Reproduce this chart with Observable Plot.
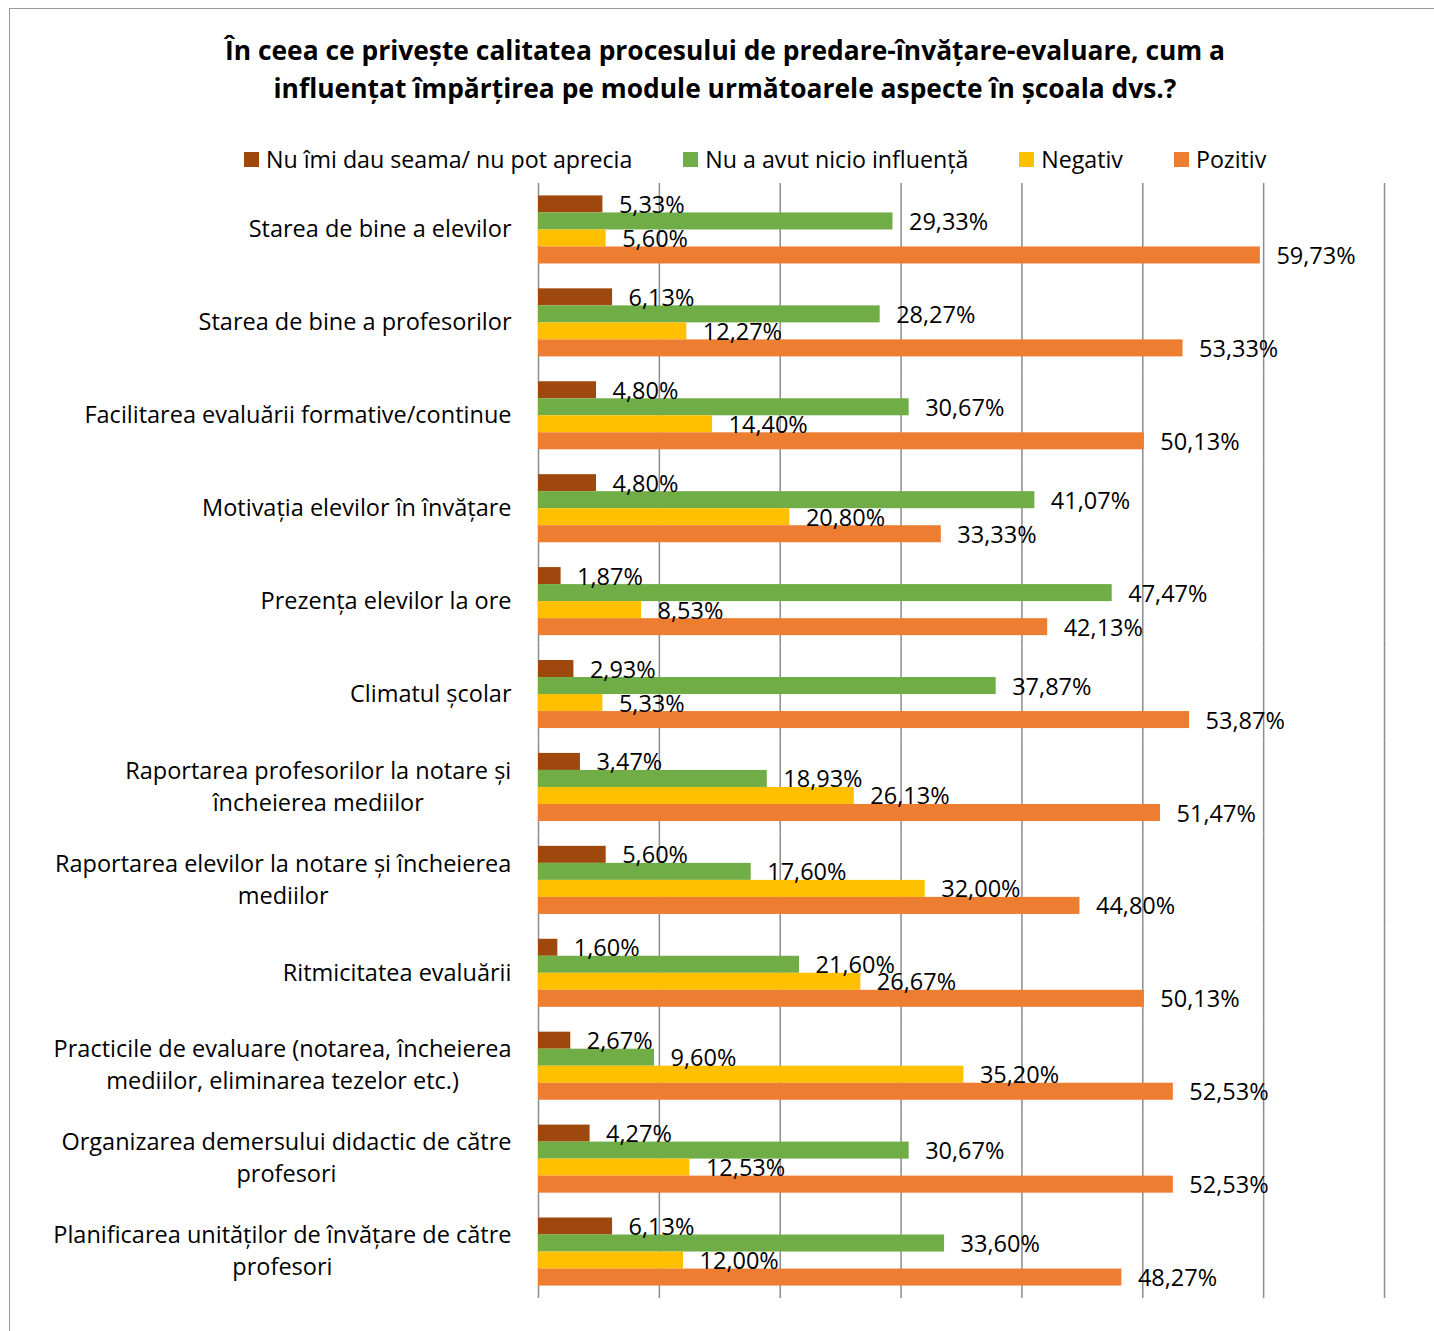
<!DOCTYPE html>
<html>
<head>
<meta charset="utf-8">
<script src="https://cdn.jsdelivr.net/npm/d3@7"></script>
<script src="https://cdn.jsdelivr.net/npm/@observablehq/plot@0.6"></script>
<style>
  html, body { margin: 0; padding: 0; background: #fff; }
  body { width: 1434px; height: 1331px; position: relative; overflow: hidden; font-family: "Open Sans", sans-serif; color: #000; }
  #frame { position: absolute; left: 9px; top: 8px; width: 1460px; height: 1360px; border: 1.5px solid #9a9a9a; box-sizing: border-box; }
  #title { position: absolute; left: 0; top: 31px; width: 1450px; text-align: center; font-weight: bold; font-size: 26.4px; line-height: 38px; }
  #legend { position: absolute; left: 244px; top: 144px; display: flex; align-items: center; font-size: 23.2px; line-height: 30px; }
  .item { display: flex; align-items: center; margin-right: 51px; }
  .sw { width: 15px; height: 15px; margin-right: 7px; }
  #chart { position: absolute; left: 0; top: 175px; }
  #chart svg { display: block; }
</style>
</head>
<body>
<div id="frame"></div>
<div id="title"></div>
<div id="legend"></div>
<div id="chart"></div>
<script>
const titleLines = [
  "În ceea ce privește calitatea procesului de predare-învățare-evaluare, cum a",
  "influențat împărțirea pe module următoarele aspecte în școala dvs.?"
];
const categories = [
  "Starea de bine a elevilor",
  "Starea de bine a profesorilor",
  "Facilitarea evaluării formative/continue",
  "Motivația elevilor în învățare",
  "Prezența elevilor la ore",
  "Climatul școlar",
  "Raportarea profesorilor la notare și\nîncheierea mediilor",
  "Raportarea elevilor la notare și încheierea\nmediilor",
  "Ritmicitatea evaluării",
  "Practicile de evaluare (notarea, încheierea\nmediilor, eliminarea tezelor etc.)",
  "Organizarea demersului didactic de către\nprofesori",
  "Planificarea unităților de învățare de către\nprofesori"
];
const seriesNames = ["Nu îmi dau seama/ nu pot aprecia", "Nu a avut nicio influență", "Negativ", "Pozitiv"];
const seriesColors = ["#9E480E", "#70AD47", "#FFC000", "#ED7D31"];
const nuStiu     = [5.33, 6.13, 4.80, 4.80, 1.87, 2.93, 3.47, 5.60, 1.60, 2.67, 4.27, 6.13];
const niciuna    = [29.33, 28.27, 30.67, 41.07, 47.47, 37.87, 18.93, 17.60, 21.60, 9.60, 30.67, 33.60];
const negativ    = [5.60, 12.27, 14.40, 20.80, 8.53, 5.33, 26.13, 32.00, 26.67, 35.20, 12.53, 12.00];
const pozitiv    = [59.73, 53.33, 50.13, 33.33, 42.13, 53.87, 51.47, 44.80, 50.13, 52.53, 52.53, 48.27];
const gridTicks = [0, 10, 20, 30, 40, 50, 60, 70];

const seriesValues = [nuStiu, niciuna, negativ, pozitiv];
const data = [];
categories.forEach((c, i) => {
  seriesNames.forEach((s, j) => data.push({cat: c, series: s, value: seriesValues[j][i]}));
});
const fmt = v => v.toFixed(2).replace(".", ",") + "%";

document.getElementById("title").innerHTML = titleLines.join("<br>");
const legend = document.getElementById("legend");
seriesNames.forEach((s, j) => {
  const it = document.createElement("div");
  it.className = "item";
  it.innerHTML = `<div class="sw" style="background:${seriesColors[j]}"></div><span>${s}</span>`;
  legend.appendChild(it);
});

const chart = Plot.plot({
  width: 1434,
  height: 1156,
  marginTop: 8,
  marginBottom: 33,
  marginLeft: 538,
  marginRight: 50,
  style: {fontFamily: "Open Sans, sans-serif", fontSize: "23.5px", color: "#000", background: "transparent"},
  x: {domain: [0, 70], axis: null},
  y: {domain: seriesNames, paddingInner: 0, paddingOuter: 0.73, round: false, axis: null},
  fy: {domain: categories, padding: 0, round: false, axis: null},
  color: {domain: seriesNames, range: seriesColors},
  marks: [
    Plot.ruleX(gridTicks, {stroke: "#8c8c8c", strokeWidth: 1.5}),
    Plot.barX(data, {fy: "cat", y: "series", x: "value", fill: "series", insetTop: 0, insetBottom: 0}),
    Plot.text(data, {fy: "cat", y: "series", x: "value", text: d => fmt(d.value), dx: 16, dy: 1, textAnchor: "start", fontSize: 23.5, fill: "#000"}),
    Plot.text(categories, {fy: d => d, text: d => d, frameAnchor: "left", dx: -27, dy: -3, textAnchor: "end", fontSize: 23.5, lineHeight: 1.36, fill: "#000", className: "catlabel"})
  ]
});
document.getElementById("chart").appendChild(chart);

// Center multi-line category labels as a block whose right edge stays at the axis padding
chart.querySelectorAll("g.catlabel text").forEach(t => {
  if (t.querySelectorAll("tspan").length < 2) return;
  const w = t.getBBox().width;
  t.setAttribute("text-anchor", "middle");
  const tr = t.getAttribute("transform") || "";
  t.setAttribute("transform", tr + ` translate(${-w / 2},0)`);
});
</script>
</body>
</html>
